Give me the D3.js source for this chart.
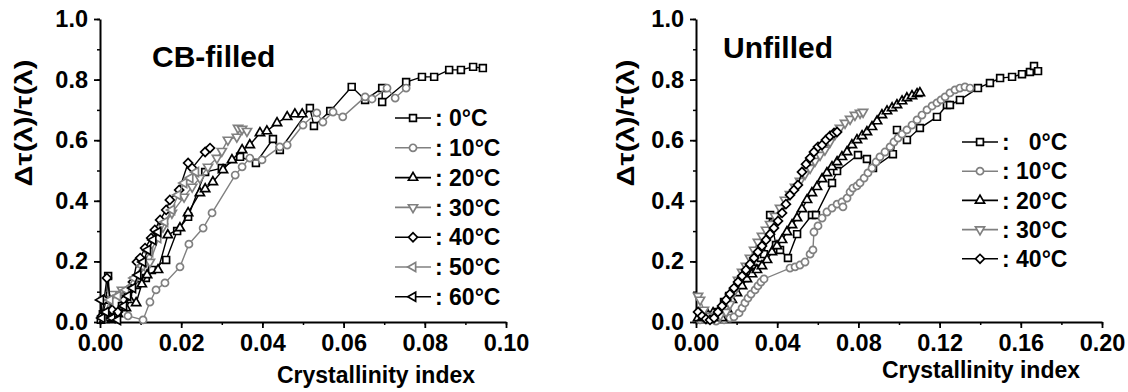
<!DOCTYPE html>
<html>
<head>
<meta charset="utf-8">
<script src="https://cdn.jsdelivr.net/npm/d3@7"></script>
<style>
body { margin: 0; background: #fff; }
text { font-family: "Liberation Sans", Arial, sans-serif; font-weight: bold; fill: #000; }
</style>
</head>
<body>
<svg id="chart" width="1128" height="392"></svg>
<script>
// ---- data : [crystallinity index, delta tau / tau] ----
// CB-filled panel
var cb00 = [[0.0002,0.007],[0.0007,0.026],[0.0015,0.073],[0.002,0.152],[0.0027,0.013],[0.0039,0.020],[0.0054,0.053],[0.0069,0.099],[0.0089,0.122],[0.0113,0.145],[0.0128,0.172],[0.0163,0.205],[0.019,0.300],[0.0217,0.347],[0.0259,0.495],[0.030,0.508],[0.0345,0.545],[0.0384,0.525],[0.0426,0.604],[0.0443,0.568],[0.0517,0.706],[0.0527,0.647],[0.0567,0.696],[0.062,0.776],[0.0653,0.733],[0.0695,0.772],[0.0695,0.726],[0.0754,0.792],[0.0793,0.809],[0.0823,0.809],[0.086,0.832],[0.0889,0.832],[0.0919,0.842],[0.0943,0.838]];
var cb10 = [[0.0069,0.020],[0.0106,0.007],[0.0123,0.066],[0.0138,0.106],[0.016,0.129],[0.0197,0.182],[0.0219,0.257],[0.0254,0.310],[0.0276,0.360],[0.0333,0.485],[0.035,0.512],[0.0369,0.541],[0.0399,0.535],[0.0443,0.578],[0.0461,0.584],[0.050,0.650],[0.0534,0.690],[0.0549,0.660],[0.0574,0.693],[0.0598,0.677],[0.0653,0.743],[0.067,0.736],[0.0707,0.772],[0.0727,0.739],[0.0754,0.772]];
var cb20 = [[0.001,0.007],[0.0025,0.013],[0.0044,0.026],[0.0064,0.046],[0.0074,0.073],[0.0089,0.063],[0.0103,0.125],[0.0116,0.155],[0.0143,0.172],[0.0167,0.287],[0.0197,0.310],[0.0217,0.360],[0.0246,0.426],[0.0259,0.439],[0.0278,0.462],[0.0303,0.502],[0.0325,0.535],[0.035,0.568],[0.0369,0.584],[0.0394,0.624],[0.0411,0.630],[0.0436,0.657],[0.0461,0.677],[0.048,0.686],[0.0498,0.686]];
var cb30 = [[0.001,0.073],[0.003,0.092],[0.0054,0.106],[0.0086,0.139],[0.0123,0.198],[0.0155,0.314],[0.0177,0.360],[0.0207,0.413],[0.0227,0.446],[0.0246,0.475],[0.0266,0.512],[0.0288,0.541],[0.030,0.564],[0.0315,0.601],[0.0337,0.611],[0.034,0.640],[0.035,0.637],[0.0362,0.630]];
var cb40 = [[0.0005,0.020],[0.001,0.073],[0.0017,0.145],[0.003,0.040],[0.0044,0.033],[0.0059,0.073],[0.0069,0.099],[0.0081,0.132],[0.0091,0.198],[0.0099,0.211],[0.0111,0.244],[0.0126,0.277],[0.0135,0.304],[0.0148,0.337],[0.0163,0.370],[0.0172,0.403],[0.0195,0.436],[0.0217,0.525],[0.0227,0.508],[0.0259,0.561],[0.0271,0.574]];
var cb50 = [[0.0007,0.013],[0.0025,0.073],[0.0044,0.086],[0.0064,0.106],[0.0084,0.145],[0.0103,0.185],[0.0123,0.231],[0.0143,0.277],[0.016,0.330],[0.0177,0.370],[0.0192,0.419],[0.0207,0.459],[0.0222,0.475],[0.0236,0.495]];
var cb60 = [[0.0002,0.073],[0.0005,0.013],[0.0015,0.033],[0.003,0.013],[0.0044,0.007],[0.0059,0.053],[0.0069,0.086],[0.0081,0.112],[0.0094,0.155],[0.0106,0.198],[0.0118,0.238],[0.0131,0.271],[0.0143,0.297]];
// Unfilled panel
var un00 = [[0.002,0.013],[0.0049,0.017],[0.0079,0.020],[0.0108,0.033],[0.0138,0.066],[0.0163,0.086],[0.0192,0.106],[0.0217,0.125],[0.0241,0.145],[0.0261,0.165],[0.0276,0.178],[0.0291,0.188],[0.0305,0.198],[0.032,0.211],[0.0335,0.224],[0.0365,0.353],[0.0394,0.254],[0.0414,0.238],[0.0453,0.211],[0.0498,0.290],[0.0571,0.353],[0.0591,0.353],[0.067,0.459],[0.0695,0.498],[0.0798,0.551],[0.0842,0.538],[0.0872,0.508],[0.097,0.554],[0.099,0.634],[0.1039,0.601],[0.1103,0.640],[0.1187,0.677],[0.1236,0.716],[0.1251,0.716],[0.130,0.733],[0.1389,0.772],[0.1448,0.789],[0.1498,0.805],[0.1557,0.809],[0.1606,0.818],[0.1645,0.825],[0.1665,0.845],[0.1685,0.828]];
var un10 = [[0.002,0.007],[0.0059,0.007],[0.0099,0.003],[0.0138,0.007],[0.0167,0.013],[0.0187,0.017],[0.0212,0.030],[0.0227,0.046],[0.0241,0.063],[0.0256,0.079],[0.0271,0.092],[0.0291,0.106],[0.0305,0.119],[0.032,0.132],[0.0335,0.142],[0.0463,0.178],[0.0488,0.182],[0.0512,0.188],[0.0537,0.198],[0.0562,0.224],[0.0576,0.238],[0.0581,0.297],[0.0601,0.317],[0.0621,0.343],[0.0645,0.363],[0.067,0.376],[0.0695,0.389],[0.0719,0.396],[0.0724,0.380],[0.0744,0.409],[0.0759,0.429],[0.0773,0.442],[0.0793,0.449],[0.0808,0.459],[0.0828,0.475],[0.0847,0.492],[0.0867,0.508],[0.0887,0.528],[0.0906,0.545],[0.0931,0.561],[0.0956,0.578],[0.0975,0.594],[0.0995,0.607],[0.1015,0.620],[0.1039,0.634],[0.1064,0.650],[0.1089,0.667],[0.1113,0.683],[0.1138,0.700],[0.1163,0.713],[0.1187,0.723],[0.1207,0.733],[0.1227,0.743],[0.1251,0.756],[0.1276,0.766],[0.130,0.772],[0.1325,0.776],[0.135,0.772]];
var un20 = [[0.001,0.013],[0.0034,0.017],[0.0059,0.023],[0.0084,0.030],[0.0108,0.020],[0.0128,0.013],[0.0153,0.043],[0.0177,0.073],[0.0202,0.096],[0.0227,0.119],[0.0251,0.142],[0.0276,0.158],[0.030,0.172],[0.0325,0.185],[0.035,0.205],[0.0374,0.231],[0.0399,0.251],[0.0424,0.271],[0.0448,0.297],[0.0473,0.320],[0.0498,0.343],[0.0522,0.373],[0.0547,0.403],[0.0571,0.426],[0.0596,0.446],[0.0621,0.472],[0.0645,0.492],[0.067,0.512],[0.0695,0.528],[0.0719,0.545],[0.0744,0.561],[0.0768,0.584],[0.0793,0.601],[0.0818,0.614],[0.0842,0.627],[0.0867,0.644],[0.0892,0.663],[0.0916,0.683],[0.0941,0.696],[0.0966,0.706],[0.099,0.716],[0.1015,0.729],[0.1039,0.739],[0.1064,0.746],[0.1089,0.753],[0.1103,0.756]];
var un30 = [[0.001,0.086],[0.002,0.073],[0.0039,0.040],[0.0059,0.020],[0.0089,0.013],[0.0118,0.020],[0.0148,0.033],[0.0167,0.059],[0.0187,0.099],[0.0207,0.139],[0.0227,0.165],[0.0246,0.185],[0.0266,0.211],[0.0286,0.238],[0.0305,0.264],[0.0325,0.284],[0.0345,0.304],[0.0365,0.323],[0.0389,0.350],[0.0414,0.376],[0.0438,0.403],[0.0463,0.422],[0.0488,0.446],[0.0512,0.465],[0.0537,0.488],[0.0562,0.508],[0.0586,0.531],[0.0611,0.551],[0.0635,0.568],[0.066,0.594],[0.0685,0.620],[0.0709,0.640],[0.0734,0.657],[0.0759,0.670],[0.0783,0.683],[0.0808,0.690],[0.0823,0.693]];
var un40 = [[0.001,0.033],[0.003,0.020],[0.0049,0.010],[0.0069,0.007],[0.0089,0.013],[0.0108,0.033],[0.0128,0.053],[0.0148,0.073],[0.0167,0.092],[0.0187,0.112],[0.0207,0.132],[0.0227,0.152],[0.0246,0.172],[0.0266,0.191],[0.0286,0.211],[0.0305,0.231],[0.0325,0.251],[0.0345,0.271],[0.0365,0.290],[0.0384,0.310],[0.0404,0.333],[0.0424,0.360],[0.0443,0.389],[0.0463,0.419],[0.0483,0.436],[0.0502,0.452],[0.0522,0.495],[0.0542,0.521],[0.0562,0.541],[0.0581,0.561],[0.0601,0.578],[0.0621,0.584],[0.064,0.601],[0.066,0.614],[0.068,0.624],[0.0695,0.627]];

var cbLabels = [": 0°C", ": 10°C", ": 20°C", ": 30°C", ": 40°C", ": 50°C", ": 60°C"];
var unLabels = [":   0°C", ": 10°C", ": 20°C", ": 30°C", ": 40°C"];
var cbXTicks = [0, 0.02, 0.04, 0.06, 0.08, 0.10];
var unXTicks = [0, 0.04, 0.08, 0.12, 0.16, 0.20];
var yTicks = [0, 0.2, 0.4, 0.6, 0.8, 1.0];

// ---- look of each temperature ----
var grey = "#808080";
var seriesColor = ["#000", grey, "#000", grey, "#000", grey, "#000"];
var seriesMarker = ["square", "circle", "up", "down", "diamond", "left", "left"];

var svg = d3.select("#chart");

function marker(sel, kind, color) {
  var type = d3.symbolTriangle, size = 36, rot = 0;
  if (kind == "square") { type = d3.symbolSquare; size = 46; }
  if (kind == "circle") { type = d3.symbolCircle; size = 40; }
  if (kind == "down") rot = 180;
  if (kind == "left") rot = -90;
  if (kind == "diamond") { type = d3.symbolSquare; size = 40; rot = 45; }
  sel.append("path")
    .attr("d", d3.symbol().type(type).size(size))
    .attr("transform", function(d){ return "translate(" + d[0] + "," + d[1] + ") rotate(" + rot + ")"; })
    .attr("fill", "#fff")
    .attr("stroke", color)
    .attr("stroke-width", 1.7);
}

function drawPanel(p) {
  var g = svg.append("g");
  var x = d3.scaleLinear().domain([0, p.xmax]).range([p.x0, p.x1]);
  var y = d3.scaleLinear().domain([0, 1]).range([322, 19]);

  // minor ticks first, then the major axis over them
  var xminor = d3.range(0, p.xmax + 1e-9, p.xmax / 10);
  var yminor = d3.range(0, 1.0001, 0.1);
  g.append("g").attr("transform", "translate(0,322)")
    .call(d3.axisBottom(x).tickValues(xminor).tickSize(3).tickFormat(""))
    .call(function(a){ a.select(".domain").remove(); a.selectAll("line").attr("stroke-width", 1.5); });
  g.append("g").attr("transform", "translate(" + p.x0 + ",0)")
    .call(d3.axisLeft(y).tickValues(yminor).tickSize(3).tickFormat(""))
    .call(function(a){ a.select(".domain").remove(); a.selectAll("line").attr("stroke-width", 1.5); });

  var xa = g.append("g").attr("transform", "translate(0,322)")
    .call(d3.axisBottom(x).tickValues(p.xticks).tickSize(6).tickSizeOuter(0).tickPadding(6).tickFormat(d3.format(".2f")));
  var ya = g.append("g").attr("transform", "translate(" + p.x0 + ",0)")
    .call(d3.axisLeft(y).tickValues(yTicks).tickSize(6).tickSizeOuter(0).tickPadding(6).tickFormat(d3.format(".1f")));
  [xa, ya].forEach(function(a){
    a.select(".domain").attr("stroke-width", 2);
    a.selectAll("line").attr("stroke-width", 1.8);
    a.selectAll("text").attr("font-size", 23.5).attr("font-family", null);
  });

  // series
  p.series.forEach(function(s, i){
    var pts = s.map(function(d){ return [x(d[0]), y(d[1])]; });
    g.append("path")
      .attr("d", d3.line()(pts))
      .attr("fill", "none")
      .attr("stroke", seriesColor[i])
      .attr("stroke-width", 1.4);
    marker(g.append("g").selectAll("g").data(pts).enter(), seriesMarker[i], seriesColor[i]);
  });

  // panel title
  g.append("text").attr("x", p.titleX).attr("y", p.titleY).attr("font-size", 30).text(p.title);

  // axis titles
  g.append("text")
    .attr("transform", "translate(" + p.yTitleX + ",123) rotate(-90)")
    .attr("text-anchor", "middle").attr("dy", "0.35em")
    .attr("font-size", 23)
    .attr("textLength", 127).attr("lengthAdjust", "spacingAndGlyphs")
    .text("Δτ(λ)/τ(λ)");
  g.append("text")
    .attr("x", p.xTitleX).attr("y", p.xTitleY)
    .attr("text-anchor", "middle").attr("font-size", 23)
    .text("Crystallinity index");

  // legend
  p.labels.forEach(function(lab, i){
    var ly = p.legY + i * p.legStep;
    var lg = g.append("g");
    lg.append("line")
      .attr("x1", p.legX).attr("x2", p.legX + 36)
      .attr("y1", ly).attr("y2", ly)
      .attr("stroke", seriesColor[i]).attr("stroke-width", 1.6);
    marker(lg.selectAll("g").data([[p.legX + 18, ly]]).enter(), seriesMarker[i], seriesColor[i]);
    lg.append("text")
      .attr("x", p.legX + 40).attr("y", ly).attr("dy", "0.36em")
      .attr("font-size", 23)
      .attr("xml:space", "preserve").style("white-space", "pre")
      .text(lab);
  });
}

drawPanel({
  x0: 100, x1: 506, xmax: 0.1, xticks: cbXTicks,
  series: [cb00, cb10, cb20, cb30, cb40, cb50, cb60],
  labels: cbLabels,
  title: "CB-filled", titleX: 152, titleY: 67,
  yTitleX: 24, xTitleX: 376, xTitleY: 383,
  legX: 395, legY: 118, legStep: 29.8
});

drawPanel({
  x0: 696, x1: 1102, xmax: 0.2, xticks: unXTicks,
  series: [un00, un10, un20, un30, un40],
  labels: unLabels,
  title: "Unfilled", titleX: 723, titleY: 58,
  yTitleX: 626, xTitleX: 981, xTitleY: 378,
  legX: 962, legY: 142, legStep: 29.2
});
</script>
</body>
</html>
